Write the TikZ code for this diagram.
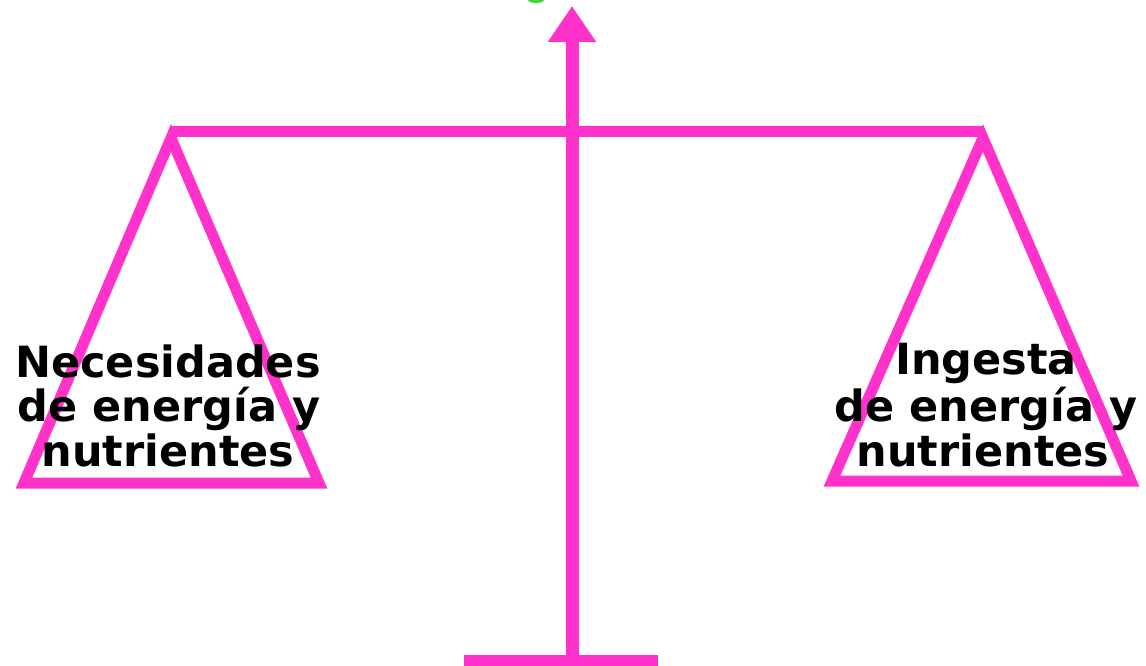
\documentclass[tikz,border=0pt]{standalone}
\usepackage{fontspec}
\setmainfont{DejaVu Sans}
\usetikzlibrary{arrows.meta}
\definecolor{mag}{HTML}{FF33CC}
\definecolor{grn}{HTML}{33DD33}
\begin{document}
\begin{tikzpicture}[x=1pt,y=-1pt,
  bar/.style={draw=mag,line width=11pt},
  pan/.style={draw=mag,line width=11pt,line join=miter},
  lbl/.style={anchor=base,inner sep=0pt,font=\fontsize{43}{48}\selectfont\bfseries,text=black}]
\useasboundingbox (0,0) rectangle (1146,666);
% coordinates
\coordinate (top) at (572,6);
\coordinate (bot) at (572,660);
\coordinate (baseL) at (464,660.5);
\coordinate (baseR) at (658,660.5);
\coordinate (beamL) at (171,132);
\coordinate (beamR) at (983,132);
\coordinate (lA) at (171,138);
\coordinate (lB) at (24,483);
\coordinate (lC) at (319,483);
\coordinate (rA) at (983,138);
\coordinate (rB) at (832,481);
\coordinate (rC) at (1131,481);
% green mark at the top
\fill[grn] (536,0) ellipse (8pt and 3pt);
% pole with arrow
\draw[draw=mag,line width=13pt,-{Triangle[length=36pt,width=46pt]}] (bot) -- (top);
% base
\draw[draw=mag,line width=11pt] (baseL) -- (baseR);
% beam
\draw[bar] (beamL) -- (beamR);
% pans
\draw[pan] (lA) -- (lB) -- (lC) -- cycle;
\draw[pan] (rA) -- (rB) -- (rC) -- cycle;
% labels
\node[lbl] (l1) at (168,377) {Necesidades};
\node[lbl] (l2) at (169,421) {de energía y};
\node[lbl] (l3) at (168,466) {nutrientes};
\node[lbl] (r1) at (986,374) {Ingesta};
\node[lbl] (r2) at (986,421) {de energía y};
\node[lbl] (r3) at (983,466) {nutrientes};
\end{tikzpicture}
\end{document}
